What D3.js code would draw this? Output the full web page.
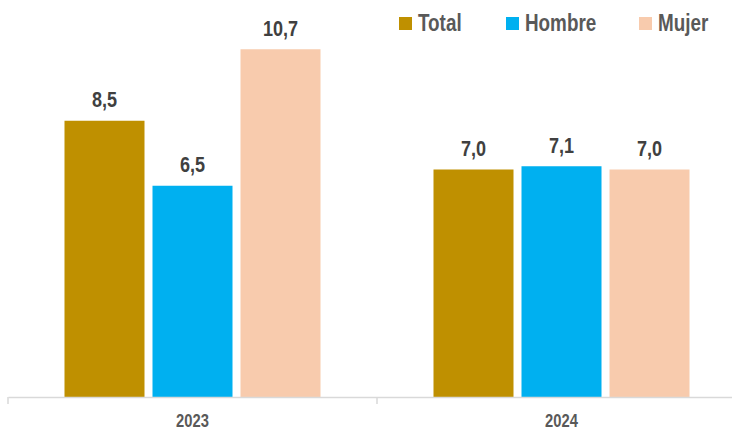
<!DOCTYPE html>
<html><head><meta charset="utf-8">
<script src="https://cdn.jsdelivr.net/npm/d3@7"></script>
<style>
html,body{margin:0;padding:0;background:#fff;}
svg{display:block;}
</style></head>
<body>
<svg id="chart" width="732" height="428"></svg>
<script>
const categories = ["2023", "2024"];
const seriesNames = ["Total", "Hombre", "Mujer"];
const totalValues = [8.5, 7.0];
const hombreValues = [6.5, 7.1];
const mujerValues = [10.7, 7.0];
const colors = ["#BF9000", "#00B0F0", "#F8CBAD"];

const seriesValues = [totalValues, hombreValues, mujerValues];
const data = [];
categories.forEach((c, i) => seriesNames.forEach((s, j) => data.push({cat: c, series: s, value: seriesValues[j][i]})));

const svg = d3.select("#chart");
const font = "'Liberation Sans',Arial,sans-serif";
const narrow = 0.82;
const baseY = 397;

const x = d3.scaleBand().domain(categories).range([8, 746]).padding(0);
const xs = d3.scaleBand().domain(seriesNames).range([0, x.bandwidth()]).paddingInner(0.0909).paddingOuter(0.642);
const y = d3.scaleLinear().domain([0, 12]).range([baseY, baseY - 12 * 32.5]);
const color = d3.scaleOrdinal().domain(seriesNames).range(colors);

// bars
svg.append("g").selectAll("rect").data(data).join("rect")
  .attr("x", d => x(d.cat) + xs(d.series))
  .attr("y", d => y(d.value))
  .attr("width", xs.bandwidth())
  .attr("height", d => y(0) - y(d.value))
  .attr("fill", d => color(d.series));

// value labels
svg.append("g").selectAll("text").data(data).join("text")
  .attr("transform", d => `translate(${x(d.cat) + xs(d.series) + xs.bandwidth() / 2},${y(d.value) - 13.5}) scale(${narrow},1)`)
  .attr("text-anchor", "middle")
  .attr("font-family", font)
  .attr("font-weight", "bold")
  .attr("font-size", 22)
  .attr("fill", "#404040")
  .text(d => d.value.toFixed(1).replace(".", ","));

// axis
const axisG = svg.append("g").attr("transform", `translate(0,${baseY})`);
axisG.call(d3.axisBottom(x).tickSize(0).tickFormat(""))
  .call(g => g.select(".domain").attr("stroke", "#D9D9D9").attr("stroke-width", 1.5));
axisG.selectAll("text.cat").data(categories).join("text").attr("class", "cat")
  .attr("transform", d => `translate(${x(d) + x.bandwidth() / 2},30) scale(${narrow},1)`)
  .attr("text-anchor", "middle")
  .attr("font-family", font).attr("font-weight", "bold").attr("font-size", 18).attr("fill", "#595959")
  .text(d => d);
axisG.selectAll("line.sep").data(categories).join("line").attr("class", "sep")
  .attr("x1", d => x(d)).attr("x2", d => x(d))
  .attr("y1", 0).attr("y2", 7)
  .attr("stroke", "#D9D9D9").attr("stroke-width", 1.5);

// legend
const legendX = [399, 506, 639];
const lg = svg.append("g").selectAll("g").data(seriesNames).join("g")
  .attr("transform", (d, i) => `translate(${legendX[i]},17)`);
lg.append("rect").attr("width", 13).attr("height", 13).attr("fill", d => color(d));
lg.append("text").attr("transform", `translate(19,14) scale(${narrow},1)`)
  .attr("font-family", font).attr("font-weight", "bold").attr("font-size", 23)
  .attr("fill", "#595959").text(d => d);
</script>
</body></html>
